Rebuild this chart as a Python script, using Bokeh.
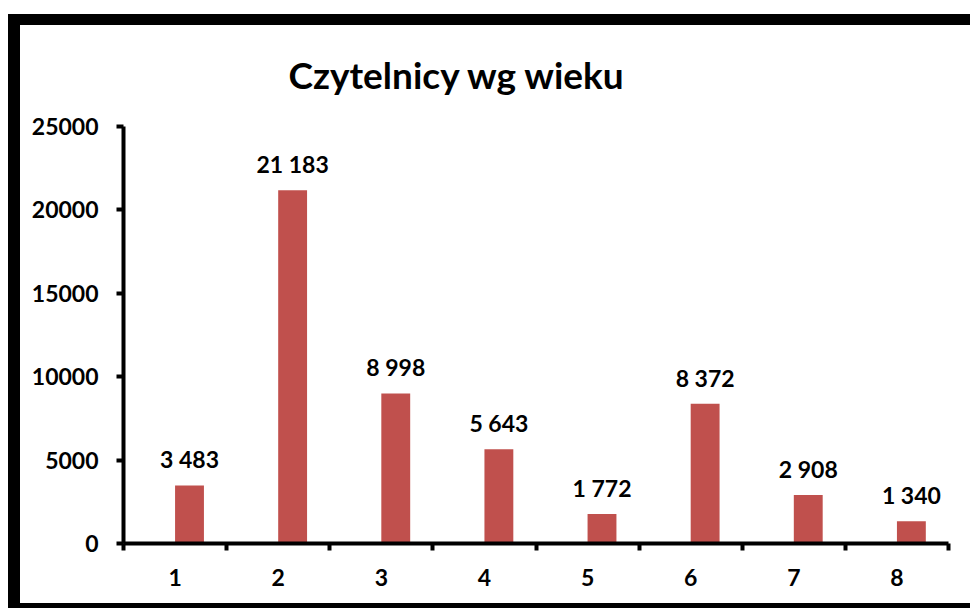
from bokeh.plotting import figure
from bokeh.models import ColumnDataSource, FixedTicker
from bokeh.core.properties import value
from bokeh.embed import file_html
from bokeh.resources import INLINE

categories = ["1", "2", "3", "4", "5", "6", "7", "8"]
readers = [3483, 21183, 8998, 5643, 1772, 8372, 2908, 1340]
y_ticks = [0, 5000, 10000, 15000, 20000, 25000]
title_text = "Czytelnicy wg wieku"

BAR_COLOR = "#C0504D"
FONT = "Lato"
BAR_W = 0.28

centers = [i + 0.5 for i in range(len(categories))]
bounds = list(range(len(categories) + 1))
labels = [f"{v:,}".replace(",", " ") for v in readers]

src = ColumnDataSource(dict(
    left=centers,
    right=[c + BAR_W for c in centers],
    top=readers,
    xc=[c + BAR_W / 2 for c in centers],
    label=labels,
))

p = figure(width=970, height=608, x_range=(0, len(categories)), y_range=(0, y_ticks[-1]),
           output_backend="svg", toolbar_location=None,
           min_border_left=123, min_border_right=22, min_border_top=126, min_border_bottom=65)

p.quad(left="left", right="right", top="top", bottom=0, source=src,
       fill_color=BAR_COLOR, line_color=None)
p.text(x="xc", y="top", text="label", source=src, text_align="center",
       text_baseline="alphabetic", y_offset=-26, text_font=value(FONT),
       text_font_style="bold", text_font_size="23px", text_color="black")

p.xaxis.ticker = FixedTicker(ticks=centers, minor_ticks=bounds)
p.xaxis.major_label_overrides = {c: cat for c, cat in zip(centers, categories)}
p.xaxis.major_tick_out = 0
p.xaxis.major_tick_in = 0
p.xaxis.minor_tick_out = 7
p.xaxis.minor_tick_in = 0
p.xaxis.minor_tick_line_width = 4
p.xaxis.minor_tick_line_color = "black"
p.xaxis.major_label_standoff = 18

p.yaxis.ticker = FixedTicker(ticks=y_ticks)
p.yaxis.major_tick_out = 7
p.yaxis.major_tick_in = 0
p.yaxis.major_tick_line_width = 4
p.yaxis.minor_tick_out = 0
p.yaxis.minor_tick_in = 0
p.yaxis.major_label_standoff = 18

for ax in (p.xaxis, p.yaxis):
    ax.axis_line_width = 4
    ax.axis_line_color = "black"
    ax.major_tick_line_color = "black"
    ax.major_label_text_font = FONT
    ax.major_label_text_font_style = "bold"
    ax.major_label_text_font_size = "23px"
    ax.major_label_text_color = "black"

p.grid.visible = False
p.outline_line_color = None
p.border_fill_color = None
p.background_fill_color = None

p.title.text = title_text
p.title.align = "left"
p.title.offset = 165
p.title.standoff = 60
p.title.text_font = FONT
p.title.text_font_style = "bold"
p.title.text_font_size = "37px"
p.title.text_color = "black"

p.styles = {
    "box-shadow": "inset 8px 0 0 0 white, inset 0 14px 0 0 white, "
                  "inset 20px 0 0 0 black, inset 0 25px 0 0 black, inset 0 -5px 0 0 black",
}

open("out.html", "w").write(file_html(p, INLINE, title=title_text))
